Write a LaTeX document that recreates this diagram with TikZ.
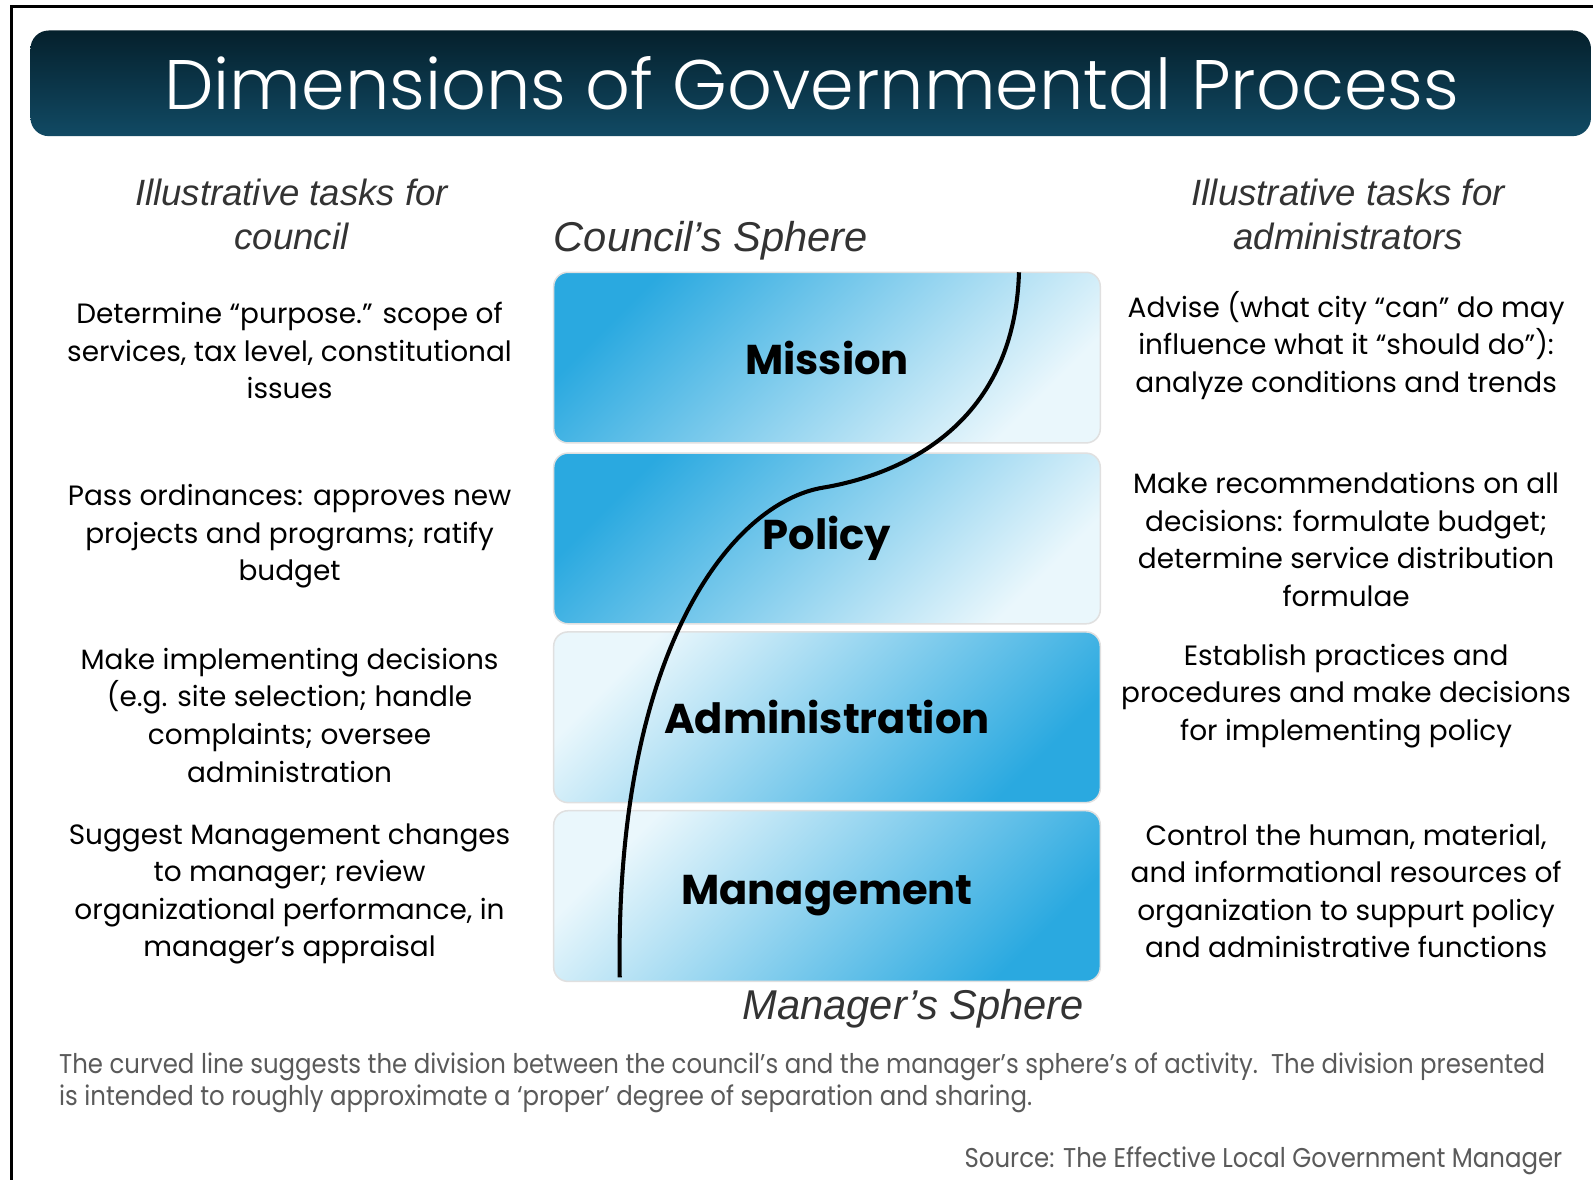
\documentclass[tikz,border=0pt]{standalone}
\usepackage{fontspec}
\setmainfont{Poppins}
\newfontfamily\arialfont{Liberation Sans}
\newfontfamily\notefont[FakeStretch=0.9]{Poppins}
\IfFontExistsTF{Poppins Light}{\newfontfamily\titlefont{Poppins Light}}{\newfontfamily\titlefont{Poppins}}

\definecolor{barTop}{HTML}{05202C}
\definecolor{barBot}{HTML}{114A64}
\definecolor{skyDark}{HTML}{2AA9E0}
\definecolor{skyLight}{HTML}{EAF7FC}
\definecolor{noteGray}{HTML}{5A5A5A}

\tikzset{
  layerbox/.style={rounded corners=14pt, draw=black!12, line width=1.5pt,
                   minimum width=538pt, minimum height=168pt,
                   font=\bfseries\fontsize{41}{48}\selectfont},
  darkfirst/.style={layerbox, top color=skyDark, bottom color=skyLight, shading angle=45},
  lightfirst/.style={layerbox, top color=skyLight, bottom color=skyDark, shading angle=45},
  task/.style={align=center, inner sep=0pt, font=\fontsize{27.5}{37}\selectfont},
  header/.style={align=center, inner sep=0pt, text=black!80, font=\arialfont\itshape\fontsize{36}{43}\selectfont},
  sphere/.style={inner sep=0pt, text=black!80, font=\arialfont\itshape\fontsize{41}{48}\selectfont},
  note/.style={inner sep=0pt, text=noteGray, font=\notefont\fontsize{26.7}{31}\selectfont}
}

\begin{document}
\begin{tikzpicture}[x=1pt, y=-1pt]
 \useasboundingbox (0,0) rectangle (1568,1161);
 \fill[white] (0,0) rectangle (1568,1161);

 %frame
 \draw[line width=3pt] (11,1161) -- (11,6) -- (1568,6);

 %title bar
 \shade[rounded corners=18pt, top color=barTop, bottom color=barBot] (30,30) rectangle (1566,134);
 \node[text=white, inner sep=0pt, font=\titlefont\fontsize{69}{75}\selectfont] (title) at (799,82) {Dimensions of Governmental Process};

 %headers
 \node[header] (hleft) at (287,211) {Illustrative tasks for\\council};
 \node[header] (hright) at (1327,211) {Illustrative tasks for\\administrators};
 \node[sphere, anchor=west] (council) at (545,237) {Council’s Sphere};
 \node[sphere, anchor=east] (manager) at (1067,993) {Manager’s Sphere};

 %layers
 \foreach \y/\name/\txt/\sty in {352/mis/Mission/darkfirst, 530/pol/Policy/darkfirst,
                                 706/adm/Administration/lightfirst, 882/man/Management/lightfirst} {
   \node[\sty] (\name) at (814,\y) {\txt};
 }

 %curve
 \coordinate (ctop) at (1003,268);
 \coordinate (cmid) at (810,480);
 \coordinate (cbot) at (610,962);
 \draw[line width=4pt] (ctop) .. controls (998,430) and (870,470) .. (cmid)
                              .. controls (720,495) and (605,640) .. (cbot);

 %council tasks
 \node[task] (c1) at (285,345) {Determine “purpose.” scope of\\services, tax level, constitutional\\issues};
 \node[task] (c2) at (285,528) {Pass ordinances: approves new\\projects and programs; ratify\\budget};
 \node[task] (c3) at (285,704) {Make implementing decisions\\(e.g. site selection; handle\\complaints; oversee\\administration};
 \node[task] (c4) at (285,880) {Suggest Management changes\\to manager; review\\organizational performance, in\\manager’s appraisal};

 %administrator tasks
 \node[task] (a1) at (1325,340) {Advise (what city “can” do may\\influence what it “should do”):\\analyze conditions and trends};
 \node[task] (a2) at (1325,531) {Make recommendations on all\\decisions: formulate budget;\\determine service distribution\\formulae};
 \node[task] (a3) at (1325,685) {Establish practices and\\procedures and make decisions\\for implementing policy};
 \node[task] (a4) at (1325,877) {Control the human, material,\\and informational resources of\\organization to suppurt policy\\and administrative functions};

 %note
 \node[note, anchor=west, align=left] (remark) at (58,1066) {The curved line suggests the division between the council’s and the manager’s sphere’s of activity.\ \ The division presented\\is intended to roughly approximate a ‘proper’ degree of separation and sharing.};
 \node[note, anchor=east] (source) at (1538,1143) {Source: The Effective Local Government Manager};

\end{tikzpicture}
\end{document}
